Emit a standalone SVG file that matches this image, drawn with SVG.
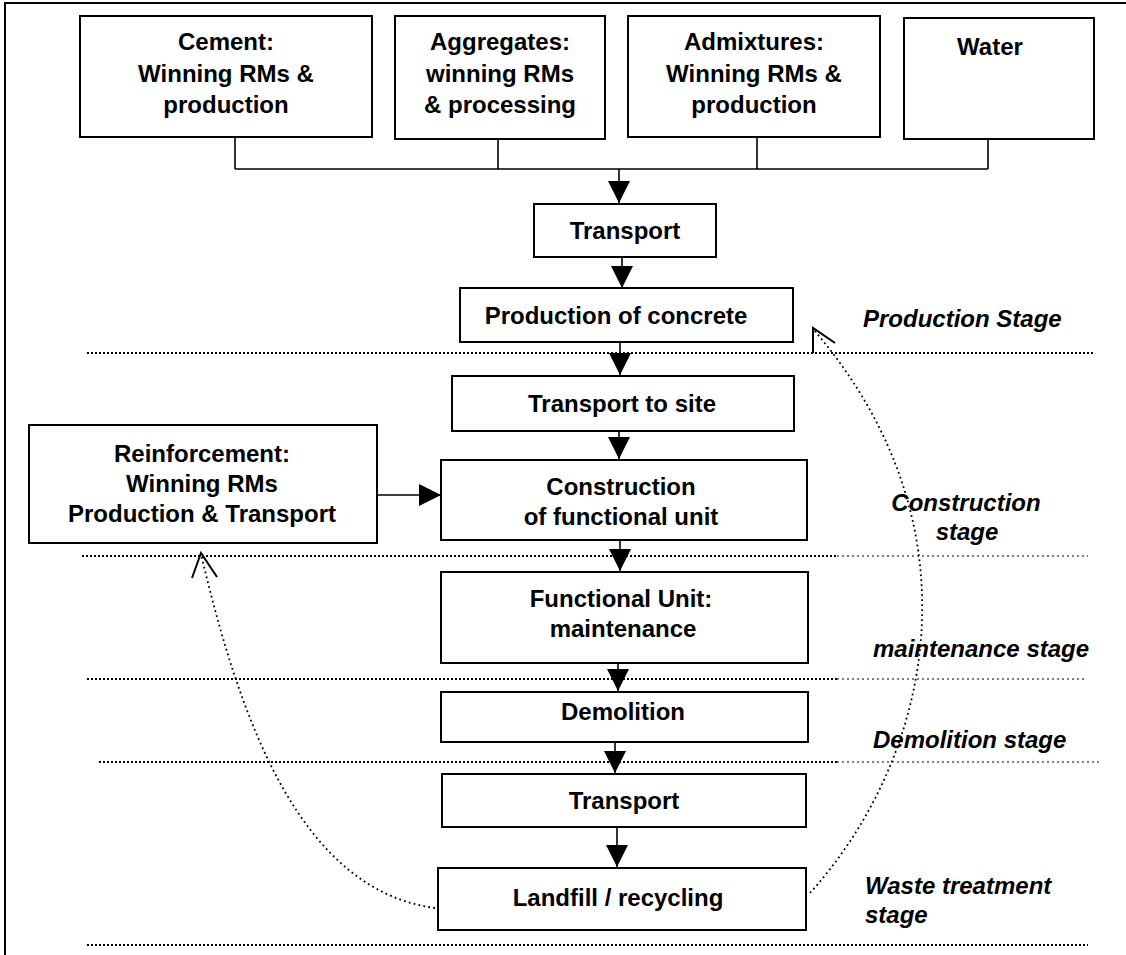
<svg xmlns="http://www.w3.org/2000/svg" width="1126" height="955" viewBox="0 0 1126 955">
<defs>
<style>
.box{fill:#fff;stroke:#000;stroke-width:2}
.t{font-family:"Liberation Sans",Arial,sans-serif;font-weight:bold;font-size:24px;fill:#000;text-anchor:middle}
.s{font-family:"Liberation Sans",Arial,sans-serif;font-weight:bold;font-style:italic;font-size:24px;fill:#000}
.ln{fill:none;stroke:#000;stroke-width:1.6}
.dot{fill:none;stroke:#000;stroke-width:2;stroke-dasharray:2 2}
.dotl{fill:none;stroke:#000;stroke-width:1;stroke-dasharray:2 3}
.curve{fill:none;stroke:#000;stroke-width:1.8;stroke-dasharray:1.8 3.2}
.open{fill:none;stroke:#000;stroke-width:2}
</style>
<marker id="ah" viewBox="0 0 10 10" refX="10" refY="5" markerWidth="22" markerHeight="22" markerUnits="userSpaceOnUse" orient="auto">
<path d="M0,0 L10,5 L0,10 Z" fill="#000"/>
</marker>
</defs>
<rect width="1126" height="955" fill="#fff"/>
<path d="M5,955 V3 H1126" fill="none" stroke="#000" stroke-width="2"/>

<g id="stage-lines">
<line class="dot" x1="87" y1="353" x2="1094" y2="353"/>
<line class="dot" x1="82" y1="556" x2="837" y2="556"/>
<line class="dotl" x1="837" y1="556" x2="1088" y2="556"/>
<line class="dot" x1="87" y1="679" x2="837" y2="679"/>
<line class="dotl" x1="837" y1="679" x2="1087" y2="679"/>
<line class="dot" x1="99" y1="762" x2="837" y2="762"/>
<line class="dotl" x1="837" y1="762" x2="1100" y2="762"/>
<line class="dot" x1="87" y1="945" x2="1088" y2="945"/>
</g>

<g id="n-cement"><rect class="box" x="80" y="16" width="292" height="121"/>
<text class="t" x="226" y="50">Cement:</text><text class="t" x="226" y="82">Winning RMs &amp;</text><text class="t" x="226" y="113">production</text></g>
<g id="n-aggregates"><rect class="box" x="395" y="16" width="210" height="123"/>
<text class="t" x="500" y="50">Aggregates:</text><text class="t" x="500" y="82">winning RMs</text><text class="t" x="500" y="113">&amp; processing</text></g>
<g id="n-admixtures"><rect class="box" x="628" y="16" width="252" height="121"/>
<text class="t" x="754" y="50">Admixtures:</text><text class="t" x="754" y="82">Winning RMs &amp;</text><text class="t" x="754" y="113">production</text></g>
<g id="n-water"><rect class="box" x="904" y="18" width="190" height="121"/>
<text class="t" x="990" y="55">Water</text></g>

<g id="n-transport1"><rect class="box" x="534" y="204" width="182" height="53"/>
<text class="t" x="625" y="239">Transport</text></g>
<g id="n-production"><rect class="box" x="460" y="288" width="333" height="54"/>
<text class="t" x="616" y="324">Production of concrete</text></g>
<g id="n-transport-site"><rect class="box" x="452" y="376" width="342" height="55"/>
<text class="t" x="622" y="412">Transport to site</text></g>
<g id="n-reinforcement"><rect class="box" x="29" y="425" width="348" height="118"/>
<text class="t" x="202" y="462">Reinforcement:</text><text class="t" x="202" y="492">Winning RMs</text><text class="t" x="202" y="522">Production &amp; Transport</text></g>
<g id="n-construction"><rect class="box" x="441" y="460" width="366" height="80"/>
<text class="t" x="621" y="495">Construction</text><text class="t" x="621" y="525">of functional unit</text></g>
<g id="n-functional"><rect class="box" x="441" y="572" width="367" height="91"/>
<text class="t" x="621" y="607">Functional Unit:</text><text class="t" x="623" y="637">maintenance</text></g>
<g id="n-demolition"><rect class="box" x="441" y="692" width="367" height="50"/>
<text class="t" x="623" y="720">Demolition</text></g>
<g id="n-transport2"><rect class="box" x="442" y="774" width="364" height="53"/>
<text class="t" x="624" y="809">Transport</text></g>
<g id="n-landfill"><rect class="box" x="438" y="868" width="368" height="62"/>
<text class="t" x="618" y="906">Landfill / recycling</text></g>

<g id="stage-labels">
<text class="s" x="863" y="327">Production Stage</text>
<text class="s" x="966" y="511" text-anchor="middle">Construction</text>
<text class="s" x="967" y="540" text-anchor="middle">stage</text>
<text class="s" x="873" y="657">maintenance stage</text>
<text class="s" x="873" y="748">Demolition stage</text>
<text class="s" x="865" y="894">Waste treatment</text>
<text class="s" x="865" y="923">stage</text>
</g>

<g id="connectors">
<path class="ln" d="M235,137 V169 M498,139 V169 M757,137 V169 M988,139 V169 M235,169 H988"/>
<line class="ln" x1="619" y1="169" x2="619" y2="203" marker-end="url(#ah)"/>
<line class="ln" x1="622" y1="257" x2="622" y2="288" marker-end="url(#ah)"/>
<line class="ln" x1="620" y1="342" x2="620" y2="375" marker-end="url(#ah)"/>
<line class="ln" x1="619" y1="431" x2="619" y2="459" marker-end="url(#ah)"/>
<line class="ln" x1="620" y1="540" x2="620" y2="571" marker-end="url(#ah)"/>
<line class="ln" x1="618" y1="663" x2="618" y2="691" marker-end="url(#ah)"/>
<line class="ln" x1="615" y1="742" x2="615" y2="773" marker-end="url(#ah)"/>
<line class="ln" x1="617" y1="827" x2="617" y2="867" marker-end="url(#ah)"/>
<line class="ln" x1="377" y1="495" x2="441" y2="495" marker-end="url(#ah)"/>
<path class="curve" d="M435,908 C300,890 240,720 201,554"/>
<polyline class="open" points="192,578 201,553 217,577"/>
<path class="curve" d="M810,893 C930,760 985,530 814,330"/>
<polyline class="open" points="813,353 813,328 835,343"/>
</g>
</svg>
